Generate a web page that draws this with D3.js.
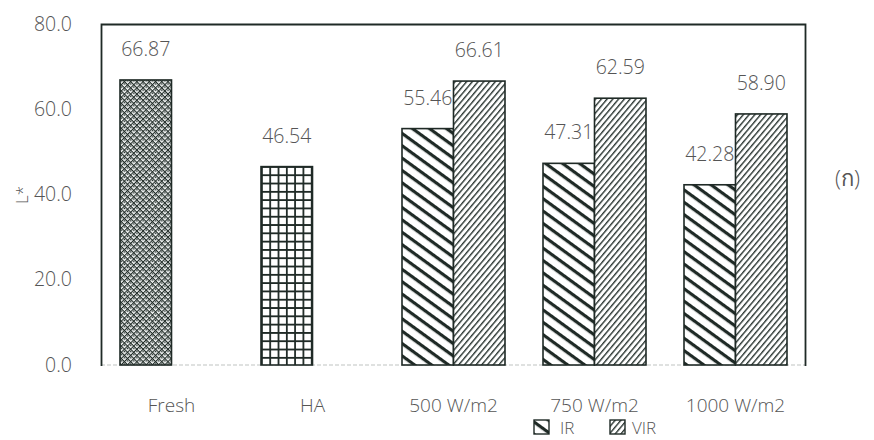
<!DOCTYPE html>
<html>
<head>
<meta charset="utf-8">
<script src="https://cdn.jsdelivr.net/npm/d3@7"></script>
<style>
  html, body { margin: 0; padding: 0; background: #fff; }
  svg { display: block; }
  text { font-family: "Open Sans", "Noto Sans", sans-serif; font-weight: 300; fill: #555; }
</style>
</head>
<body>
<svg id="chart" width="874" height="440"></svg>
<script>
// Lightness (L*) of samples: fresh, hot-air dried, and IR / VIR dried at three power levels
const categories = ["Fresh", "HA", "500 W/m2", "750 W/m2", "1000 W/m2"];
const controlCategories = ["Fresh", "HA"];
const controlValues = [66.87, 46.54];
const powerCategories = ["500 W/m2", "750 W/m2", "1000 W/m2"];
const irValues = [55.46, 47.31, 42.28];
const virValues = [66.61, 62.59, 58.90];
const seriesNames = ["IR", "VIR"];
const yTicks = [0, 20, 40, 60, 80];

const ink = "#1f2a26";
const fontStack = "'Open Sans', 'Noto Sans', sans-serif";
const svg = d3.select("#chart");
const margin = { left: 101, right: 68, top: 24, bottom: 75 };
const W = 874, H = 440;

const x = d3.scaleBand().domain(categories)
  .range([margin.left, W - margin.right]).paddingInner(0).paddingOuter(0);
const xSub = d3.scaleBand().domain(seriesNames)
  .range([0, x.bandwidth()]).paddingInner(0).paddingOuter(0.369);
const y = d3.scaleLinear().domain([0, 80]).range([H - margin.bottom, margin.top]);

// ---- fill patterns ----
const defs = svg.append("defs");

// Fresh: dense diamond lattice with dots
const pf = defs.append("pattern").attr("id", "pat-fresh")
  .attr("patternUnits", "userSpaceOnUse").attr("width", 4.4).attr("height", 4.4)
  .attr("patternTransform", "rotate(45)");
pf.append("rect").attr("width", 4.4).attr("height", 4.4).attr("fill", "#eef1f0");
pf.append("path").attr("d", "M0,0H4.4M0,0V4.4").attr("stroke", ink).attr("stroke-width", 2);
pf.append("rect").attr("x", 1.5).attr("y", 1.5).attr("width", 1.4).attr("height", 1.4).attr("fill", ink);

// HA: square grid
const ph = defs.append("pattern").attr("id", "pat-ha")
  .attr("patternUnits", "userSpaceOnUse").attr("width", 8.3).attr("height", 8.3)
  .attr("x", x("HA") + xSub("IR")).attr("y", 0);
ph.append("rect").attr("width", 8.3).attr("height", 8.3).attr("fill", "#fff");
ph.append("path").attr("d", "M0,0.9H8.3M0.9,0V8.3").attr("stroke", ink).attr("stroke-width", 1.8);

// IR: wide downward diagonal
const pir = defs.append("pattern").attr("id", "pat-ir")
  .attr("patternUnits", "userSpaceOnUse").attr("width", 10).attr("height", 10)
  .attr("patternTransform", "rotate(36)");
pir.append("rect").attr("width", 10).attr("height", 10).attr("fill", "#fff");
pir.append("rect").attr("x", 0).attr("y", 0).attr("width", 10).attr("height", 3.2).attr("fill", ink);

// VIR: narrow upward diagonal
const pvir = defs.append("pattern").attr("id", "pat-vir")
  .attr("patternUnits", "userSpaceOnUse").attr("width", 4.4).attr("height", 4.4)
  .attr("patternTransform", "rotate(-50)");
pvir.append("rect").attr("width", 4.4).attr("height", 4.4).attr("fill", "#fff");
pvir.append("rect").attr("x", 0).attr("y", 0).attr("width", 4.4).attr("height", 1.4).attr("fill", "#2b3632");

// ---- plot frame ----
const x0 = margin.left, x1 = W - margin.right, yTop = y(80), yBot = y(0);
svg.append("line").attr("x1", x0).attr("x2", x1).attr("y1", yBot).attr("y2", yBot)
  .attr("stroke", "#bfc4c2").attr("stroke-width", 1.2).attr("stroke-dasharray", "4,2");
svg.append("path")
  .attr("d", `M${x0 + 0.5},${yBot + 1}V${yTop + 0.5}H${x1 - 0.5}V${yBot + 1}`)
  .attr("fill", "none").attr("stroke", ink).attr("stroke-width", 1.8);

// ---- y axis labels ----
const yAxis = d3.axisLeft(y).tickValues(yTicks).tickFormat(d3.format(".1f")).tickSize(0).tickPadding(0);
const gy = svg.append("g").attr("transform", "translate(72,-1)").call(yAxis);
gy.select(".domain").remove();
gy.selectAll("text").attr("font-size", 19.5).attr("fill", "#555")
  .style("font-family", fontStack).style("font-weight", 300).attr("dy", "0.36em");

// y axis title
svg.append("text").attr("transform", "translate(28,204) rotate(-90)")
  .attr("font-size", 17).attr("text-anchor", "start").text("L*");

// ---- x axis labels ----
const xAxis = d3.axisBottom(x).tickSize(0).tickPadding(0);
const gx = svg.append("g").attr("transform", `translate(0,${yBot + 40})`).call(xAxis);
gx.select(".domain").remove();
gx.selectAll("text").attr("font-size", 19).attr("fill", "#555")
  .style("font-family", fontStack).style("font-weight", 300).attr("dy", "0.36em");

// ---- bars ----
const bw = xSub.bandwidth();
const barData = [
  ...controlCategories.map((c, i) => ({ cat: c, slot: "IR", v: controlValues[i], fill: i === 0 ? "url(#pat-fresh)" : "url(#pat-ha)" })),
  ...powerCategories.map((c, i) => ({ cat: c, slot: "IR", v: irValues[i], fill: "url(#pat-ir)" })),
  ...powerCategories.map((c, i) => ({ cat: c, slot: "VIR", v: virValues[i], fill: "url(#pat-vir)" }))
];

svg.append("g").selectAll("rect").data(barData).join("rect")
  .attr("x", d => x(d.cat) + xSub(d.slot))
  .attr("y", d => y(d.v))
  .attr("width", bw)
  .attr("height", d => y(0) - y(d.v))
  .attr("fill", d => d.fill)
  .attr("stroke", ink).attr("stroke-width", 1.6);

// value labels
svg.append("g").selectAll("text").data(barData).join("text")
  .attr("x", d => x(d.cat) + xSub(d.slot) + bw / 2)
  .attr("y", d => y(d.v) - 24)
  .attr("text-anchor", "middle")
  .attr("font-size", 19.5)
  .text(d => d.v.toFixed(2));

// ---- legend ----
const legend = svg.append("g").attr("transform", "translate(534,420)");
const items = [{ name: "IR", fill: "url(#pat-ir)", dx: 0, tx: 26 }, { name: "VIR", fill: "url(#pat-vir)", dx: 76, tx: 98 }];
items.forEach(it => {
  legend.append("rect").attr("x", it.dx).attr("y", 0).attr("width", 15).attr("height", 14)
    .attr("fill", it.fill).attr("stroke", ink).attr("stroke-width", 1.4);
  legend.append("text").attr("x", it.tx).attr("y", 14).attr("font-size", 17).text(it.name);
});

// panel tag
svg.append("text").attr("x", 835).attr("y", 186).attr("font-size", 22).text("(ก)");
</script>
</body>
</html>
